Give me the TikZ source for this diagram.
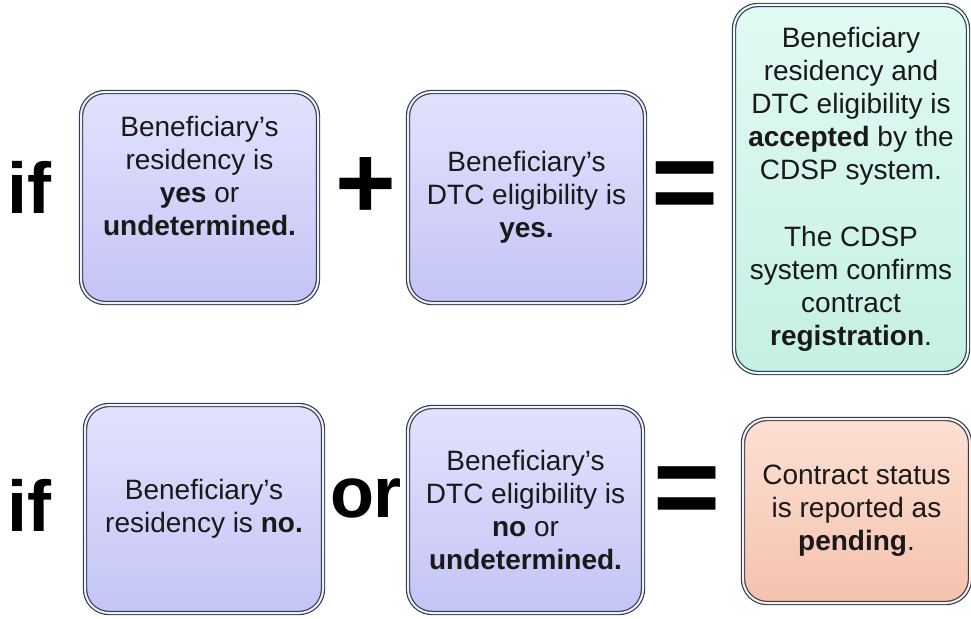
\documentclass[tikz,border=0pt]{standalone}
\usepackage{fontspec}
\setmainfont{Liberation Sans}
\usetikzlibrary{positioning}

\definecolor{edge}{RGB}{50,62,82}
\definecolor{lavtop}{RGB}{226,226,253}
\definecolor{lavbot}{RGB}{196,196,246}
\definecolor{mintop}{RGB}{226,250,243}
\definecolor{minbot}{RGB}{196,240,226}
\definecolor{peachtop}{RGB}{252,224,210}
\definecolor{peachbot}{RGB}{245,194,174}
\definecolor{ink}{RGB}{25,25,25}

\begin{document}
\begin{tikzpicture}[x=1pt, y=-1pt,
  card/.style={draw=edge, line width=1.2pt, double distance=2pt,
    rounded corners=24pt, align=center, text=ink, inner sep=0pt,
    font=\fontsize{28}{33}\selectfont},
  cond/.style={card, top color=lavtop, bottom color=lavbot, double=lavtop!50!white},
  okres/.style={card, top color=mintop, bottom color=minbot, double=mintop!50!white},
  waitres/.style={card, top color=peachtop, bottom color=peachbot, double=peachtop!50!white},
  sym/.style={inner sep=0pt, font=\bfseries, text=black}]

  \useasboundingbox (0,0) rectangle (971,618);

  % first rule
  \node[sym, font=\bfseries\fontsize{72}{72}\selectfont] (if1) at (29,187) {if};
  \node[cond, minimum width=237pt, minimum height=211pt] (res1) at (199.5,197.5)
    {Beneficiary’s\\residency is\\\textbf{yes} or\\\textbf{undetermined.}\\\strut};
  \node[sym, font=\bfseries\fontsize{104}{104}\selectfont] (plus) at (366,188) {+};
  \node[cond, minimum width=237pt, minimum height=211pt] (dtc1) at (526.5,197.5)
    {Beneficiary’s\\DTC eligibility is\\\textbf{yes.}};
  \node[sym, font=\bfseries\fontsize{115}{115}\selectfont] (eq1) at (685,192) {=};
  \node[okres, minimum width=234pt, minimum height=368pt] (acc) at (851,189)
    {Beneficiary\\residency and\\DTC eligibility is\\\textbf{accepted} by the\\CDSP system.\\[34pt]The CDSP\\system confirms\\contract\\\textbf{registration}.};

  % second rule
  \node[sym, font=\bfseries\fontsize{72}{72}\selectfont] (if2) at (29,505) {if};
  \node[cond, minimum width=238pt, minimum height=208pt] (res2) at (204,509)
    {Beneficiary’s\\residency is \textbf{no.}};
  \node[sym, font=\bfseries\fontsize{72}{72}\selectfont] (or) at (366,498) {or};
  \node[cond, minimum width=235pt, minimum height=206pt] (dtc2) at (525.5,510)
    {Beneficiary’s\\DTC eligibility is\\\textbf{no} or\\\textbf{undetermined.}};
  \node[sym, font=\bfseries\fontsize{115}{115}\selectfont] (eq2) at (687,497) {=};
  \node[waitres, minimum width=227pt, minimum height=184pt] (pend) at (856.5,511)
    {Contract status\\is reported as\\\textbf{pending}.};

\end{tikzpicture}
\end{document}
